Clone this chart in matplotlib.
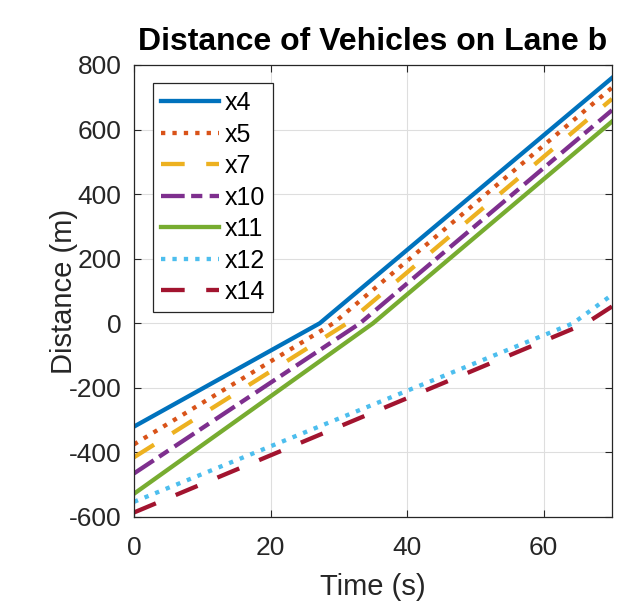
import matplotlib.pyplot as plt

plt.rcParams['font.family'] = ['Liberation Sans', 'DejaVu Sans']
plt.rcParams['axes.unicode_minus'] = False

# czas i dystans w punktach załamania (s, m)
t_x4 = [0, 27.2, 70]
d_x4 = [-320, 0, 760]
t_x5 = [0, 29.2, 70]
d_x5 = [-375, 0, 730]
t_x7 = [0, 31.2, 70]
d_x7 = [-415, 0, 695]
t_x10 = [0, 33.1, 70]
d_x10 = [-465, 0, 660]
t_x11 = [0, 35.0, 70]
d_x11 = [-528, 0, 625]
t_x12 = [0, 64.3, 70]
d_x12 = [-553, 0, 88]
t_x14 = [0, 66.2, 70]
d_x14 = [-586, 0, 52]

nazwy = ["x4", "x5", "x7", "x10", "x11", "x12", "x14"]
kolory = ['#0072BD', '#D95319', '#EDB120', '#7E2F8E', '#77AC30', '#4DBEEE', '#A2142F']
xticks = [0, 20, 40, 60]
yticks = [-600, -400, -200, 0, 200, 400, 600, 800]

dane = [(t_x4, d_x4), (t_x5, d_x5), (t_x7, d_x7), (t_x10, d_x10),
        (t_x11, d_x11), (t_x12, d_x12), (t_x14, d_x14)]
kreski = [None, (1, 1.65), (5.5, 5), (5.5, 1.5, 2.6, 1.7), None, (1, 1.65), (5.5, 5)]

fig = plt.figure(figsize=(6.22, 6.05), dpi=100)
ax = fig.add_axes([134 / 622, 88 / 605, 478 / 622, 452 / 605])

for (t, d), nazwa, kolor, k in zip(dane, nazwy, kolory, kreski):
    linia, = ax.plot(t, d, color=kolor, lw=3.1, label=nazwa)
    if k is not None:
        linia.set_dashes(k)

ax.set_xlim(0, 70)
ax.set_ylim(-600, 800)
ax.set_xticks(xticks)
ax.set_yticks(yticks)
ax.grid(True, color='#dedede', lw=0.8)
ax.set_axisbelow(True)
ax.tick_params(direction='in', length=5, width=0.8, top=True, right=True,
               labelsize=19, colors='#262626')
ax.tick_params(axis='x', pad=13.5)
ax.tick_params(axis='y', pad=9)
for s in ax.spines.values():
    s.set_color('#262626')
    s.set_linewidth(0.9)

ax.set_title("Distance of Vehicles on Lane b", fontsize=23, fontweight='bold', pad=11)
ax.set_xlabel("Time (s)", fontsize=21, color='#262626', labelpad=9.5)
ax.set_ylabel("Distance (m)", fontsize=21, color='#262626')
ax.yaxis.set_label_coords(-0.117, 0.5)

leg = ax.legend(loc='upper left', bbox_to_anchor=(0.04, 0.96), borderaxespad=0,
                fontsize=18, fancybox=False, framealpha=1, edgecolor='#262626',
                handlelength=2.32, handletextpad=0.22, labelspacing=0.3, borderpad=0.32)
leg.get_frame().set_linewidth(0.9)

fig.savefig("out.png", dpi=100)
